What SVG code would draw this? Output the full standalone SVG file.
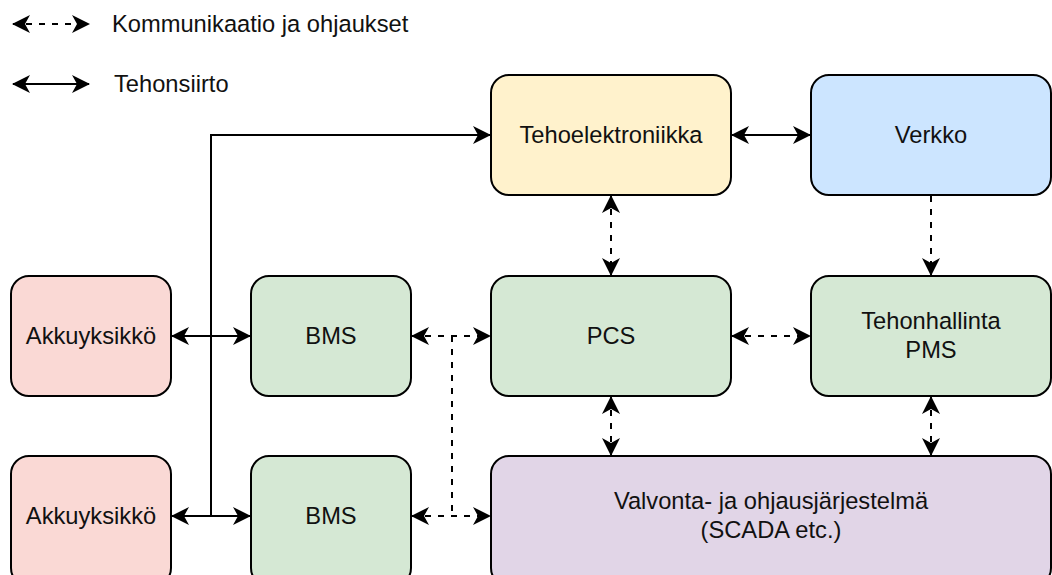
<svg xmlns="http://www.w3.org/2000/svg" width="1052" height="575" viewBox="0 0 1052 575">
  <style>
    .box { stroke: #000; stroke-width: 2; }
    .red { fill: #fad9d5; }
    .yellow { fill: #fff2cc; }
    .blue { fill: #cce5ff; }
    .green { fill: #d5e8d4; }
    .purple { fill: #e1d5e7; }
    text { font-family: "Liberation Sans", Arial, sans-serif; font-size: 23.7px; fill: #111; }
    .c { text-anchor: middle; }
    .wire { fill: none; stroke: #000; stroke-width: 2; }
    .dash { stroke-dasharray: 6 7; }
  </style>
  <defs>
    <marker id="arrow" markerUnits="userSpaceOnUse" viewBox="0 0 18 18" markerWidth="18" markerHeight="18" refX="17" refY="9" orient="auto-start-reverse">
      <path d="M0,0 L18,9 L0,18 L5,9 Z" fill="#000"/>
    </marker>
  </defs>

  <rect width="1052" height="575" fill="#fff"/>

  <!-- legend -->
  <g id="legend">
    <line class="wire dash" x1="13" y1="24" x2="89" y2="24" marker-start="url(#arrow)" marker-end="url(#arrow)"/>
    <text x="112" y="32">Kommunikaatio ja ohjaukset</text>
    <line class="wire" x1="13" y1="84" x2="89" y2="84" marker-start="url(#arrow)" marker-end="url(#arrow)"/>
    <text x="114" y="92">Tehonsiirto</text>
  </g>

  <!-- connectors -->
  <g id="connectors">
    <!-- power flow -->
    <line class="wire" x1="172" y1="336" x2="250" y2="336" marker-start="url(#arrow)" marker-end="url(#arrow)"/>
    <line class="wire" x1="172" y1="516" x2="250" y2="516" marker-start="url(#arrow)" marker-end="url(#arrow)"/>
    <polyline class="wire" points="211,516 211,135 490,135" marker-end="url(#arrow)"/>
    <line class="wire" x1="732" y1="135" x2="810" y2="135" marker-start="url(#arrow)" marker-end="url(#arrow)"/>
    <!-- communication and control -->
    <line class="wire dash" x1="412" y1="336" x2="490" y2="336" marker-start="url(#arrow)" marker-end="url(#arrow)"/>
    <line class="wire dash" x1="412" y1="516" x2="490" y2="516" marker-start="url(#arrow)" marker-end="url(#arrow)"/>
    <line class="wire dash" x1="452" y1="336" x2="452" y2="516"/>
    <line class="wire dash" x1="611" y1="196" x2="611" y2="275" marker-start="url(#arrow)" marker-end="url(#arrow)"/>
    <line class="wire dash" x1="611" y1="397" x2="611" y2="455" marker-start="url(#arrow)" marker-end="url(#arrow)"/>
    <line class="wire dash" x1="732" y1="336" x2="810" y2="336" marker-start="url(#arrow)" marker-end="url(#arrow)"/>
    <line class="wire dash" x1="931" y1="196" x2="931" y2="275" marker-end="url(#arrow)"/>
    <line class="wire dash" x1="931" y1="397" x2="931" y2="455" marker-start="url(#arrow)" marker-end="url(#arrow)"/>
  </g>

  <!-- nodes -->
  <g id="akku1">
    <rect class="box red" x="11" y="276" width="160" height="120" rx="18"/>
    <text class="c" x="91" y="344">Akkuyksikkö</text>
  </g>
  <g id="akku2">
    <rect class="box red" x="11" y="456" width="160" height="130" rx="18"/>
    <text class="c" x="91" y="524">Akkuyksikkö</text>
  </g>
  <g id="bms1">
    <rect class="box green" x="251" y="276" width="160" height="120" rx="18"/>
    <text class="c" x="331" y="344">BMS</text>
  </g>
  <g id="bms2">
    <rect class="box green" x="251" y="456" width="160" height="130" rx="18"/>
    <text class="c" x="331" y="524">BMS</text>
  </g>
  <g id="tehoelektroniikka">
    <rect class="box yellow" x="491" y="75" width="240" height="120" rx="18"/>
    <text class="c" x="611" y="143">Tehoelektroniikka</text>
  </g>
  <g id="verkko">
    <rect class="box blue" x="811" y="75" width="240" height="120" rx="18"/>
    <text class="c" x="931" y="143">Verkko</text>
  </g>
  <g id="pcs">
    <rect class="box green" x="491" y="276" width="240" height="120" rx="18"/>
    <text class="c" x="611" y="344">PCS</text>
  </g>
  <g id="pms">
    <rect class="box green" x="811" y="276" width="240" height="120" rx="18"/>
    <text class="c" x="931" y="329">Tehonhallinta</text>
    <text class="c" x="931" y="358">PMS</text>
  </g>
  <g id="scada">
    <rect class="box purple" x="491" y="456" width="560" height="130" rx="18"/>
    <text class="c" x="771" y="509">Valvonta- ja ohjausjärjestelmä</text>
    <text class="c" x="771" y="538">(SCADA etc.)</text>
  </g>
</svg>
